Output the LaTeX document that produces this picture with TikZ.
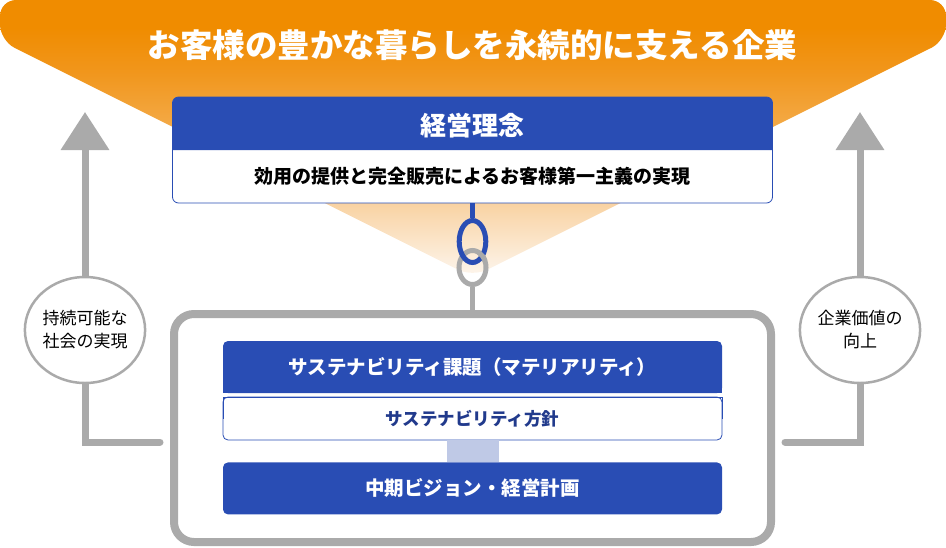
\documentclass[tikz,border=0pt]{standalone}
\usepackage{fontspec}
\setmainfont{Noto Sans CJK JP}
\usepackage{tikz}
\usetikzlibrary{calc,positioning,shapes.geometric,arrows.meta}
\usepackage{xcolor}
\definecolor{coreblue}{RGB}{41,77,180}
\definecolor{navytext}{RGB}{33,58,140}
\definecolor{linkgray}{RGB}{170,170,170}
\definecolor{paleblue}{RGB}{191,201,230}
\definecolor{coneorange}{RGB}{240,140,0}
\definecolor{coneupper}{RGB}{241,150,28}
\definecolor{conemid}{RGB}{244,174,80}
\definecolor{conepeach}{RGB}{249,214,170}
\definecolor{conelight}{RGB}{253,246,238}
\pgfdeclareverticalshading{conefade}{100bp}{color(0bp)=(conelight); color(25bp)=(conelight); color(37bp)=(conepeach); color(50bp)=(conemid); color(62bp)=(coneupper); color(70bp)=(coneorange); color(100bp)=(coneorange)}
\pgfdeclarelayer{background}
\pgfsetlayers{background,main}

\tikzset{
  bluebox/.style={fill=coreblue, rounded corners=5pt, minimum width=499pt, minimum height=52pt, inner sep=0pt, outer sep=0pt},
  boxtext/.style={text=white, font=\bfseries\fontsize{19.5pt}{22pt}\selectfont},
  ring/.style={ellipse, line width=5pt, inner sep=0pt},
  sidearrow/.style={linkgray, line width=7pt, -{Triangle[width=47pt,length=38pt]}},
  sideline/.style={linkgray, line width=7pt, line cap=round},
  goalcircle/.style={ellipse, draw=linkgray, line width=2.5pt, fill=white, minimum width=116pt, minimum height=106pt, inner sep=0pt, align=center, font=\fontsize{17pt}{23pt}\selectfont}
}

\begin{document}
\begin{tikzpicture}[x=1pt,y=-1pt]
    \useasboundingbox (0,0) rectangle (946,547);
    % Draw the orange cone
    \shade[shading=conefade, rounded corners=16pt] (0,0) -- (946,0) -- (946,40.5) -- (472.5,277) -- (0,40.5) -- cycle;
    \node[white, font=\bfseries\fontsize{32.5pt}{36pt}\selectfont] (motto) at (472.5,45) {お客様の豊かな暮らしを永続的に支える企業};
    % Draw the philosophy box
    \node[draw=coreblue, line width=0.8pt, fill=white, rounded corners=6pt, minimum width=600pt, minimum height=106pt, inner sep=0pt, outer sep=0pt] (rinenbox) at (472.5,150) {};
    \fill[coreblue, rounded corners=6pt] (rinenbox.west) -- (rinenbox.north west) -- (rinenbox.north east) [sharp corners] -- (rinenbox.east) -- cycle;
    \node[white, font=\bfseries\fontsize{26pt}{28pt}\selectfont] (rinen) at ($(rinenbox.north)!0.5!(rinenbox.center)+(0,2)$) {経営理念};
    \node[font=\bfseries\fontsize{19pt}{22pt}\selectfont] (rinensub) at ($(rinenbox.center)!0.5!(rinenbox.south)$) {効用の提供と完全販売によるお客様第一主義の実現};
    % Draw the two side arrows
    \coordinate (lefttip) at (85,112);
    \coordinate (leftfoot) at (160,442);
    \coordinate (righttip) at (860,112);
    \coordinate (rightfoot) at (785,442);
    \node[goalcircle] (society) at (85,330) {持続可能な\\社会の実現};
    \node[goalcircle] (value) at (860,330) {企業価値の\\向上};
    \begin{pgfonlayer}{background}
    \draw[sidearrow] (society.north) -- (lefttip);
    \draw[sidearrow] (value.north) -- (righttip);
    \draw[sideline] (society.south) |- (leftfoot);
    \draw[sideline] (value.south) |- (rightfoot);
    \end{pgfonlayer}
    % Draw the gray frame
    \node[draw=linkgray, line width=8pt, rounded corners=20pt, minimum width=597pt, minimum height=228pt, inner sep=0pt] (frame) at (472.5,428) {};
    % Draw the chain links
    \node[ring, draw=linkgray, minimum width=27pt, minimum height=34pt] (grayring) at (472.5,267.5) {};
    \node[ring, draw=coreblue, minimum width=26.6pt, minimum height=42pt] (bluering) at (472.5,241.5) {};
    \draw[linkgray, line width=5pt] (grayring.center) ++(-22:13.5 and 17) arc[start angle=-22, end angle=-62, x radius=13.5, y radius=17];
    \draw[coreblue, line width=5pt] (rinenbox.south) -- (bluering.north);
    \draw[linkgray, line width=5pt] (grayring.south) -- (frame.north);
    % Draw the boxes inside the frame
    \node[bluebox] (materialitybox) at (472.5,367) {};
    \fill[coreblue] (materialitybox.west) rectangle (materialitybox.south east);
    \node[boxtext] (materiality) at (materialitybox) {サステナビリティ課題（マテリアリティ）};
    \node[draw=coreblue, line width=0.8pt, fill=white, rounded corners=5pt, minimum width=499pt, minimum height=43pt, inner sep=0pt, outer sep=0pt, text=navytext, font=\bfseries\fontsize{17.5pt}{20pt}\selectfont] (hoshin) at (472.5,418.5) {サステナビリティ方針};
    \draw[coreblue, line width=0.8pt] (hoshin.west) -- (hoshin.north west) -- (hoshin.north east) -- (hoshin.east);
    \node[fill=paleblue, minimum width=52pt, minimum height=22pt, inner sep=0pt, below=0pt of hoshin] (bridge) {};
    \node[bluebox, boxtext, below=0pt of bridge] (midplan) {中期ビジョン・経営計画};
\end{tikzpicture}
\end{document}
